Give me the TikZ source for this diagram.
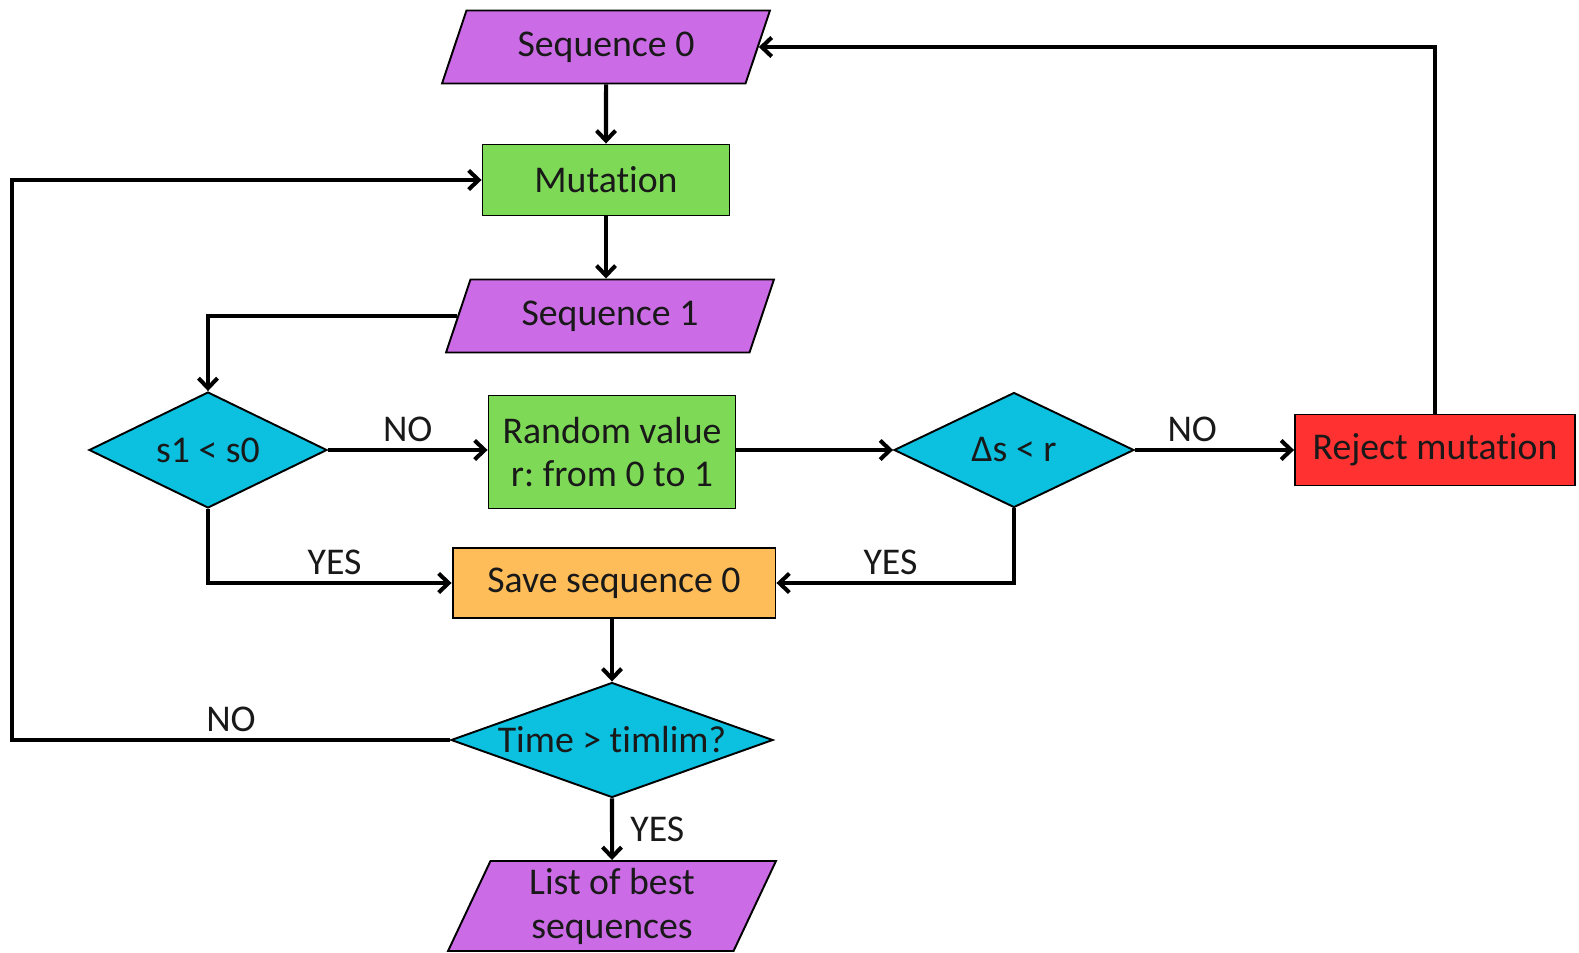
\documentclass[tikz,border=0pt]{standalone}
\usepackage{fontspec}
\setmainfont{Carlito}[Ligatures={NoCommon}]
\usepackage{xcolor}
\usepackage{tikz}
\usetikzlibrary{positioning,shapes.geometric,arrows.meta}
\frenchspacing

\definecolor{iopurple}{HTML}{CB6CE6}
\definecolor{procgreen}{HTML}{7ED957}
\definecolor{deccyan}{HTML}{0CC0DF}
\definecolor{saveorange}{HTML}{FFBD59}
\definecolor{rejred}{HTML}{FF3131}

\tikzset{
  base/.style={draw, line width=1.1pt, font=\fontsize{21.5}{25}\selectfont, text=black!90, inner sep=2pt},
  io/.style={base, trapezium, trapezium left angle=57, trapezium right angle=123,
    trapezium stretches body, fill=iopurple, minimum width=6.56cm, minimum height=1.46cm},
  proc/.style={base, rectangle, fill=procgreen},
  decision/.style={base, diamond, fill=deccyan, aspect=2, inner sep=0pt},
  flow/.style={line width=2.3pt, -{Straight Barb[length=2mm,width=3.8mm,line width=2.3pt]}},
  lbl/.style={font=\fontsize{21.5}{25}\selectfont, text=black!90}
}

\begin{document}
\begin{tikzpicture}[x=0.02cm, y=-0.02cm]
		\useasboundingbox (0,0) rectangle (1579,953);
		% Nodes
		\node [io] (seq0) at (606,47) {Sequence 0};
		\node [proc, minimum width=4.94cm, minimum height=1.42cm] (mutation) at (606,180) {Mutation};
		\node [io] (seq1) at (610,316) {Sequence 1};
		\node [decision, minimum width=4.76cm, minimum height=2.32cm] (s1s0) at (208,450) {s1 < s0};
		\node [proc, minimum width=4.94cm, minimum height=2.26cm, align=center] (random) at (612,452) {Random value\\r: from 0 to 1};
		\node [decision, minimum width=4.8cm, minimum height=2.3cm] (ds) at (1014,450) {Δs < r};
		\node [base, rectangle, fill=rejred, minimum width=5.6cm, minimum height=1.42cm] (reject) at (1435,450) {Reject mutation};
		\node [base, rectangle, fill=saveorange, minimum width=6.46cm, minimum height=1.4cm] (save) at (614,583) {Save sequence 0};
		\node [decision, aspect=2.8, minimum width=6.44cm, minimum height=2.3cm] (time) at (612,740) {Time > timlim?};
		\node [io, trapezium left angle=63, trapezium right angle=117, minimum height=1.8cm, align=center] (best) at (612,906) {List of best\\sequences};
		\coordinate (back) at (12,740);

		% Arrows
		\draw [flow] (seq0) -- (mutation);
		\draw [flow] (mutation) -- (mutation |- seq1.north);
		\draw [flow] (seq1.west) -| (s1s0.north);
		\draw [flow] (s1s0.east) -- node [lbl, above] {NO} (random.west |- s1s0.east);
		\draw [flow] (random.east |- ds.west) -- (ds.west);
		\draw [flow] (ds.east) -- node [lbl, above, pos=0.36] {NO} (reject.west);
		\draw [flow] (reject.north) |- (seq0.east);
		\draw [flow] (s1s0.south) |- node [lbl, above, pos=0.76] {YES} (save.west);
		\draw [flow] (ds.south) |- node [lbl, above, pos=0.76] {YES} (save.east);
		\draw [flow] (save.south -| time.north) -- (time.north);
		\draw [flow] (time.west) -- node [lbl, above, pos=0.5] {NO} (back) |- (mutation.west);
		\draw [flow] (time) -- node [lbl, right=6pt] {YES} (best);
	\end{tikzpicture}
\end{document}
